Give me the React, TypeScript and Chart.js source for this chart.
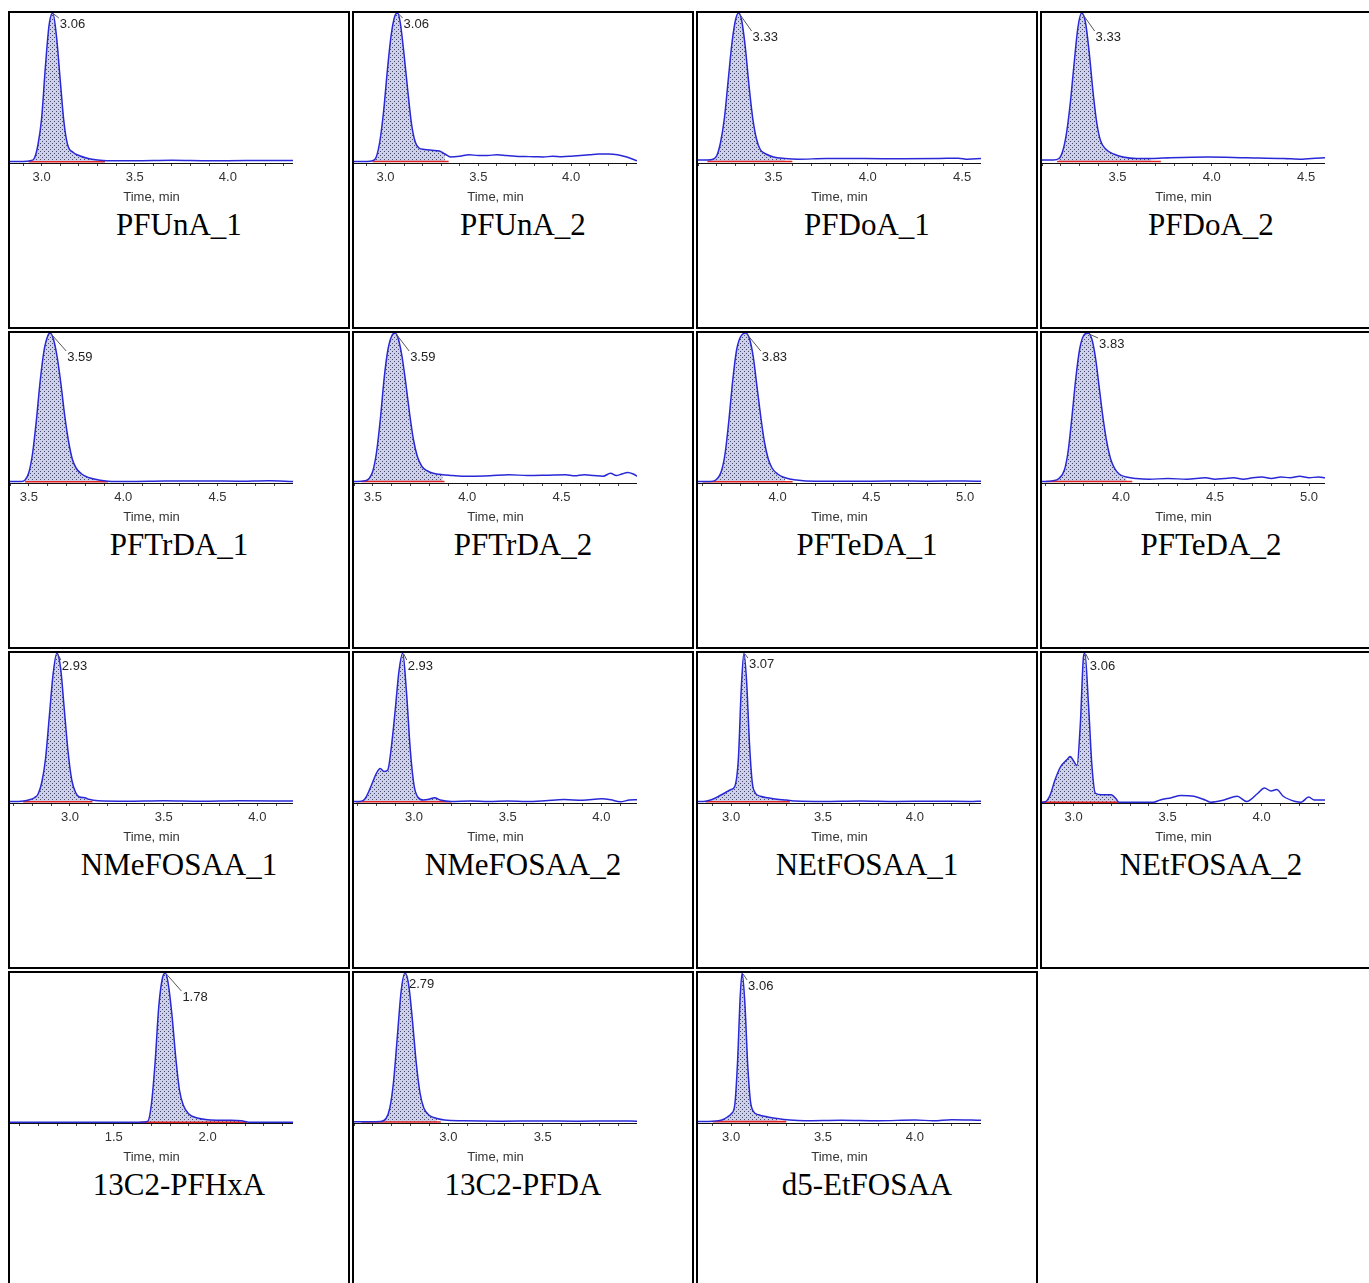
import React, { useEffect, useRef } from "react";
import { Chart, registerables } from "chart.js";

Chart.register(...registerables);

// ---------- DATA ----------
const PANEL_NAMES = [
  "PFUnA_1", "PFUnA_2", "PFDoA_1", "PFDoA_2",
  "PFTrDA_1", "PFTrDA_2", "PFTeDA_1", "PFTeDA_2",
  "NMeFOSAA_1", "NMeFOSAA_2", "NEtFOSAA_1", "NEtFOSAA_2",
  "13C2-PFHxA", "13C2-PFDA", "d5-EtFOSAA",
];

const PEAK_RT = [
  "3.06", "3.06", "3.33", "3.33",
  "3.59", "3.59", "3.83", "3.83",
  "2.93", "2.93", "3.07", "3.06",
  "1.78", "2.79", "3.06",
];

const X_MIN = [2.83, 2.83, 3.12, 3.12, 3.38, 3.38, 3.575, 3.58, 2.68, 2.68, 2.82, 2.832, 0.947, 2.52, 2.82];
const X_MAX = [4.35, 4.355, 4.62, 4.62, 4.88, 4.88, 5.085, 5.085, 4.19, 4.19, 4.36, 4.337, 2.455, 4.02, 4.36];

const INT_START = [2.93, 2.93, 3.17, 3.2, 3.46, 3.42, 3.6, 3.6, 2.75, 2.69, 2.86, 2.832, 1.64, 2.56, 2.9];
const INT_END = [3.34, 3.34, 3.62, 3.75, 3.9, 3.86, 4.08, 4.06, 3.12, 3.2, 3.32, 3.24, 2.21, 2.98, 3.3];
const BASE_LEVEL = [0.8, 1, 1, 1, 0.8, 1, 0.8, 1, 0.8, 0.8, 0.8, 0.4, 0.5, 0.7, 0.9];

const TRACE_PFUNA_1 = [
  [2.83, 1], [2.9, 1], [2.94, 1.5], [2.96, 3], [2.98, 12], [3.0, 30], [3.02, 64], [3.04, 92], [3.06, 100],
  [3.08, 84], [3.1, 55], [3.12, 27], [3.14, 12], [3.17, 7], [3.2, 5], [3.25, 3], [3.3, 2], [3.35, 1.5],
  [3.5, 1.5], [3.7, 1.8], [3.9, 1.5], [4.1, 1.6], [4.35, 1.6],
];
const TRACE_PFUNA_2 = [
  [2.83, 1], [2.9, 1], [2.93, 1.5], [2.95, 4], [2.97, 15], [2.99, 35], [3.01, 62], [3.03, 85], [3.05, 98],
  [3.065, 100], [3.08, 93], [3.1, 72], [3.12, 48], [3.14, 26], [3.16, 14], [3.18, 10], [3.21, 9], [3.25, 8.5],
  [3.29, 8], [3.32, 6], [3.35, 4], [3.4, 4.5], [3.45, 5.5], [3.5, 5], [3.55, 5], [3.6, 5.5], [3.65, 5],
  [3.7, 4.5], [3.75, 4.3], [3.8, 4.2], [3.85, 4], [3.9, 4.5], [3.95, 4.2], [4.0, 4.5], [4.05, 5], [4.1, 5.5],
  [4.15, 6], [4.2, 6], [4.25, 5.5], [4.3, 4], [4.355, 1.5],
];
const TRACE_PFDOA_1 = [
  [3.12, 2], [3.17, 2], [3.2, 2.5], [3.22, 5], [3.24, 14], [3.26, 30], [3.28, 55], [3.3, 80], [3.32, 96],
  [3.335, 100], [3.35, 96], [3.37, 78], [3.39, 52], [3.41, 30], [3.43, 16], [3.45, 9], [3.48, 6], [3.52, 4],
  [3.58, 3], [3.65, 2.5], [3.8, 3], [4.0, 3], [4.2, 2.8], [4.4, 3], [4.5, 3.2], [4.55, 2.5], [4.62, 3],
];
const TRACE_PFDOA_2 = [
  [3.12, 2], [3.18, 2], [3.21, 3], [3.23, 8], [3.25, 20], [3.27, 40], [3.29, 66], [3.31, 90], [3.33, 100],
  [3.35, 94], [3.37, 74], [3.39, 48], [3.41, 27], [3.43, 15], [3.46, 9], [3.5, 6], [3.55, 4], [3.62, 3],
  [3.7, 3], [3.8, 3.5], [4.0, 4], [4.2, 3.5], [4.4, 3], [4.5, 2.5], [4.55, 3], [4.62, 3.5],
];
const TRACE_PFTRDA_1 = [
  [3.38, 1], [3.44, 1], [3.46, 2], [3.48, 7], [3.5, 20], [3.52, 42], [3.54, 68], [3.56, 88], [3.58, 98],
  [3.593, 100], [3.61, 96], [3.63, 84], [3.65, 66], [3.67, 45], [3.69, 28], [3.71, 16], [3.73, 10], [3.76, 6],
  [3.8, 3.5], [3.85, 2], [3.9, 1.2], [4.0, 1], [4.2, 1.3], [4.4, 1.4], [4.6, 1.2], [4.75, 1.5], [4.88, 1],
];
const TRACE_PFTRDA_2 = [
  [3.38, 1], [3.44, 1.5], [3.46, 3], [3.48, 8], [3.5, 21], [3.52, 43], [3.54, 70], [3.56, 89], [3.58, 98],
  [3.598, 100], [3.615, 96], [3.635, 84], [3.655, 66], [3.675, 46], [3.695, 29], [3.715, 18], [3.74, 11],
  [3.77, 8], [3.8, 6.5], [3.85, 5.5], [3.9, 5], [3.95, 4.5], [4.0, 4.5], [4.1, 4.8], [4.2, 5.5], [4.3, 5],
  [4.4, 5.2], [4.5, 5.5], [4.55, 4.8], [4.6, 5.5], [4.65, 5], [4.7, 4.5], [4.74, 6.5], [4.77, 5], [4.8, 6],
  [4.83, 7], [4.86, 6], [4.88, 4.5],
];
const TRACE_PFTEDA_1 = [
  [3.575, 1], [3.64, 1], [3.67, 2], [3.7, 8], [3.72, 20], [3.74, 42], [3.76, 68], [3.78, 88], [3.8, 97],
  [3.83, 100], [3.85, 96], [3.87, 84], [3.89, 64], [3.91, 44], [3.93, 27], [3.95, 16], [3.97, 10], [4.0, 6],
  [4.04, 3.5], [4.1, 2], [4.2, 1.2], [4.4, 1.2], [4.6, 1.3], [4.8, 1.2], [5.0, 1.3], [5.085, 1.2],
];
const TRACE_PFTEDA_2 = [
  [3.58, 1], [3.64, 1.5], [3.67, 3], [3.7, 9], [3.72, 22], [3.74, 45], [3.76, 70], [3.78, 89], [3.8, 98],
  [3.825, 100], [3.845, 96], [3.865, 83], [3.885, 63], [3.905, 43], [3.925, 27], [3.945, 16], [3.965, 10],
  [3.99, 6], [4.03, 4], [4.08, 3], [4.15, 2.5], [4.25, 3], [4.35, 2.5], [4.45, 3.5], [4.5, 2.5], [4.55, 3],
  [4.6, 3.5], [4.65, 2.5], [4.7, 3.5], [4.75, 4], [4.8, 3], [4.85, 4], [4.9, 3.5], [4.95, 4.5], [5.0, 3.5],
  [5.05, 4], [5.085, 3.5],
];
const TRACE_NMEFOSAA_1 = [
  [2.68, 1], [2.74, 1.2], [2.78, 2], [2.81, 3.5], [2.83, 6], [2.85, 14], [2.87, 30], [2.89, 58], [2.91, 86],
  [2.93, 100], [2.95, 90], [2.97, 62], [2.99, 34], [3.01, 15], [3.03, 7], [3.05, 4], [3.08, 3.5], [3.1, 2.5],
  [3.15, 1.5], [3.3, 1.2], [3.5, 1.5], [3.7, 1.2], [3.9, 1.5], [4.19, 1.3],
];
const TRACE_NMEFOSAA_2 = [
  [2.68, 1], [2.72, 1.2], [2.74, 3], [2.76, 8], [2.78, 14], [2.8, 20], [2.82, 23], [2.84, 21], [2.86, 22],
  [2.88, 38], [2.9, 62], [2.92, 88], [2.94, 100], [2.96, 74], [2.98, 36], [3.0, 12], [3.02, 4], [3.05, 2],
  [3.08, 2.5], [3.11, 3.5], [3.14, 2], [3.2, 1], [3.3, 1.3], [3.4, 1], [3.5, 1.3], [3.6, 1], [3.7, 1.5],
  [3.8, 2.3], [3.9, 1.8], [4.0, 2.8], [4.05, 2.2], [4.1, 0.8], [4.15, 2], [4.19, 2.2],
];
const TRACE_NETFOSAA_1 = [
  [2.82, 1], [2.86, 1.2], [2.9, 2.5], [2.94, 5], [2.97, 7], [3.0, 9], [3.02, 11], [3.04, 30], [3.055, 75],
  [3.07, 100], [3.085, 80], [3.1, 40], [3.115, 14], [3.13, 7], [3.16, 4.5], [3.2, 3.5], [3.25, 2.5], [3.3, 2],
  [3.35, 1.3], [3.5, 1], [3.7, 1.3], [3.9, 1], [4.1, 1.2], [4.3, 1], [4.36, 1.2],
];
const TRACE_NETFOSAA_2 = [
  [2.832, 0.5], [2.85, 0.8], [2.876, 5.5], [2.9, 15], [2.93, 24], [2.965, 29], [2.982, 31], [3.0, 28],
  [3.018, 25], [3.036, 53], [3.053, 98], [3.06, 100], [3.08, 64], [3.098, 24], [3.116, 6.5], [3.15, 5.5],
  [3.2, 5.5], [3.225, 3], [3.24, 0.5], [3.3, 0.5], [3.426, 0.5], [3.46, 2], [3.52, 3.5], [3.57, 5], [3.64, 4.5],
  [3.7, 2], [3.73, 0.5], [3.8, 2], [3.87, 4.5], [3.92, 1], [3.98, 6.5], [4.015, 10], [4.05, 8], [4.08, 9],
  [4.115, 4.5], [4.18, 1], [4.21, 0.5], [4.25, 4], [4.28, 2], [4.337, 2],
];
const TRACE_13C2_PFHXA = [
  [0.947, 0.5], [1.2, 0.5], [1.5, 0.5], [1.64, 0.5], [1.68, 1], [1.7, 12], [1.72, 40], [1.74, 78], [1.76, 97],
  [1.775, 100], [1.79, 93], [1.81, 72], [1.83, 44], [1.85, 22], [1.87, 12], [1.9, 6], [1.94, 3.5], [2.0, 2.2],
  [2.1, 1.8], [2.18, 1.5], [2.22, 0.5], [2.455, 0.5],
];
const TRACE_13C2_PFDA = [
  [2.52, 0.8], [2.6, 0.8], [2.66, 1], [2.69, 3], [2.71, 10], [2.73, 28], [2.75, 58], [2.77, 88], [2.79, 100],
  [2.81, 92], [2.83, 68], [2.85, 40], [2.87, 20], [2.89, 10], [2.92, 5], [2.96, 3], [3.0, 2], [3.1, 1.5],
  [3.3, 1.2], [3.5, 1.4], [3.7, 1.2], [3.9, 1.4], [4.02, 1.2],
];
const TRACE_D5_ETFOSAA = [
  [2.82, 1], [2.9, 1.2], [2.95, 2], [2.98, 4], [3.0, 6], [3.02, 12], [3.035, 40], [3.05, 85], [3.06, 100],
  [3.075, 80], [3.09, 40], [3.105, 15], [3.12, 8], [3.15, 5.5], [3.2, 4], [3.25, 3], [3.32, 2], [3.4, 1.5],
  [3.6, 1.8], [3.8, 1.5], [4.0, 2], [4.1, 1.5], [4.2, 2.2], [4.36, 1.8],
];

const TRACES = [
  TRACE_PFUNA_1, TRACE_PFUNA_2, TRACE_PFDOA_1, TRACE_PFDOA_2,
  TRACE_PFTRDA_1, TRACE_PFTRDA_2, TRACE_PFTEDA_1, TRACE_PFTEDA_2,
  TRACE_NMEFOSAA_1, TRACE_NMEFOSAA_2, TRACE_NETFOSAA_1, TRACE_NETFOSAA_2,
  TRACE_13C2_PFHXA, TRACE_13C2_PFDA, TRACE_D5_ETFOSAA,
];

// ---------- LAYOUT / STYLE ----------
const LABEL_OFFSETS = [
  [7, 11], [6, 11], [14, 24], [14, 24],
  [17, 24], [15, 24], [16, 24], [11, 11],
  [5, 13], [5, 13], [5, 11], [5, 13],
  [17, 24], [4, 11], [6, 13],
];

const CELL_W = 342;
const CELL_H = 318;
const COL_PITCH = 344;
const ROW_PITCH = 320;
const GRID_LEFT = 8;
const GRID_TOP = 11;
const CANVAS_W = 283;
const CANVAS_H = 194;
const SANS = '"Liberation Sans", Arial, sans-serif';

function makePattern(ctx: CanvasRenderingContext2D) {
  const c = document.createElement("canvas");
  c.width = 4;
  c.height = 4;
  const g = c.getContext("2d")!;
  g.fillStyle = "#cdd0ea";
  g.fillRect(0, 0, 4, 4);
  g.fillStyle = "#4a4a66";
  g.fillRect(0, 0, 1, 1);
  g.fillRect(2, 2, 1, 1);
  return ctx.createPattern(c, "repeat");
}

const peakLabelPlugin = {
  id: "peakLabel",
  afterDatasetsDraw(chart: any, _args: any, opts: any) {
    const { ctx, scales } = chart;
    const px = scales.x.getPixelForValue(opts.t);
    const py = scales.y.getPixelForValue(opts.v);
    const lx = px + opts.dx;
    const ly = py + opts.dy;
    ctx.save();
    ctx.strokeStyle = "#555";
    ctx.lineWidth = 1;
    ctx.beginPath();
    ctx.moveTo(px + 1, py + 1);
    ctx.lineTo(lx - 1, ly - 6);
    ctx.stroke();
    ctx.font = `13px ${SANS}`;
    ctx.fillStyle = "#222";
    ctx.textBaseline = "middle";
    ctx.textAlign = "left";
    ctx.fillText(opts.text, lx, ly);
    ctx.restore();
  },
};

function Panel({ idx }: { idx: number }) {
  const ref = useRef<HTMLCanvasElement | null>(null);
  useEffect(() => {
    const canvas = ref.current!;
    const ctx = canvas.getContext("2d")!;
    const trace = TRACES[idx];
    const pts = trace.map(([x, y]) => ({ x, y }));
    const s = INT_START[idx];
    const e = INT_END[idx];
    const base = BASE_LEVEL[idx];
    const xmin = X_MIN[idx];
    const xmax = X_MAX[idx];
    const fillPts = pts.filter((p) => p.x >= s && p.x <= e);
    let apex = pts[0];
    for (const p of pts) if (p.y > apex.y) apex = p;
    const [dx, dy] = LABEL_OFFSETS[idx];

    const chart = new Chart(ctx, {
      type: "line",
      data: {
        datasets: [
          {
            data: pts,
            borderColor: "rgb(40,40,215)",
            borderWidth: 1.5,
            pointRadius: 0,
            fill: false,
            cubicInterpolationMode: "monotone",
          },
          {
            data: [{ x: s, y: base }, { x: e, y: base }],
            borderColor: "rgb(225,35,35)",
            borderWidth: 1.6,
            pointRadius: 0,
            fill: false,
          },
          {
            data: fillPts,
            borderWidth: 0,
            borderColor: "rgba(0,0,0,0)",
            backgroundColor: makePattern(ctx) as any,
            pointRadius: 0,
            fill: { value: base },
            cubicInterpolationMode: "monotone",
          },
        ],
      },
      options: {
        responsive: false,
        animation: false,
        events: [],
        layout: { padding: 0 },
        plugins: {
          legend: { display: false },
          tooltip: { enabled: false },
          peakLabel: { t: apex.x, v: apex.y, dx, dy, text: PEAK_RT[idx] },
        } as any,
        scales: {
          x: {
            type: "linear",
            min: xmin,
            max: xmax,
            border: { display: true, color: "#111", width: 1 },
            grid: { display: true, drawOnChartArea: false, drawTicks: true, tickLength: 3, color: "#444" },
            ticks: {
              stepSize: 0.1,
              includeBounds: false,
              autoSkip: false,
              maxRotation: 0,
              minRotation: 0,
              padding: 4,
              color: "#333",
              font: { family: SANS, size: 13 },
              callback: (v: any) => {
                const r = Math.round(Number(v) * 10) / 10;
                if (r - xmin < 0.08 || xmax - r < 0.08) return "";
                return Math.abs(r * 2 - Math.round(r * 2)) < 1e-9 ? r.toFixed(1) : "";
              },
            },
            title: {
              display: true,
              text: "Time, min",
              color: "#333",
              font: { family: SANS, size: 13 },
              padding: { top: 0, bottom: 2 },
            },
            afterFit: (sc: any) => {
              sc.height = 44;
              sc.paddingLeft = 0;
              sc.paddingRight = 0;
            },
          },
          y: { type: "linear", min: 0, max: 100, display: false },
        },
      },
      plugins: [peakLabelPlugin],
    } as any);
    return () => chart.destroy();
  }, [idx]);

  return (
    <canvas
      ref={ref}
      width={CANVAS_W}
      height={CANVAS_H}
      style={{ display: "block", width: CANVAS_W, height: CANVAS_H, position: "absolute", left: 0, top: 0 }}
    />
  );
}

export default function App() {
  return (
    <div style={{ position: "fixed", inset: 0, overflow: "hidden", background: "#fff" }}>
      {PANEL_NAMES.map((name, i) => {
        const col = i % 4;
        const row = Math.floor(i / 4);
        return (
          <div
            key={name}
            style={{
              position: "absolute",
              left: GRID_LEFT + col * COL_PITCH,
              top: GRID_TOP + row * ROW_PITCH,
              width: CELL_W,
              height: CELL_H,
              border: "2px solid #000",
              boxSizing: "border-box",
            }}
          >
            <Panel idx={i} />
            <div
              style={{
                position: "absolute",
                left: 0,
                right: 0,
                top: 194,
                textAlign: "center",
                fontFamily: '"Liberation Serif", "Times New Roman", serif',
                fontSize: 31,
                lineHeight: "36px",
                color: "#000",
              }}
            >
              {name}
            </div>
          </div>
        );
      })}
    </div>
  );
}
